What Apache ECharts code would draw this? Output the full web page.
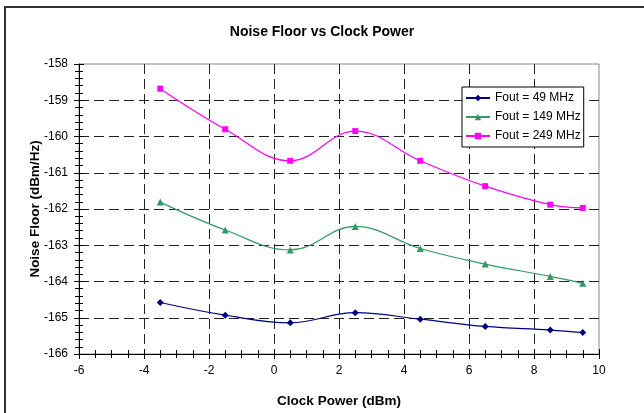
<!DOCTYPE html>
<html>
<head>
<meta charset="utf-8">
<script src="https://cdn.jsdelivr.net/npm/echarts@6/dist/echarts.min.js"></script>
<style>
  html, body { margin: 0; padding: 0; background: #fff; }
  #main { width: 644px; height: 413px; }
</style>
</head>
<body>
<div id="main"></div>
<script>
// clock power (dBm)
var clockPower = [-3.5, -1.5, 0.5, 2.5, 4.5, 6.5, 8.5, 9.5];
// noise floor (dBm/Hz)
var fout49 = [-164.58, -164.93, -165.14, -164.86, -165.04, -165.24, -165.34, -165.41];
var fout149 = [-161.81, -162.58, -163.13, -162.48, -163.09, -163.52, -163.86, -164.05];
var fout249 = [-158.68, -159.80, -160.67, -159.85, -160.67, -161.37, -161.88, -161.97];
var seriesNames = ['Fout = 49 MHz', 'Fout = 149 MHz', 'Fout = 249 MHz'];

var font = 'Arial, "Liberation Sans", sans-serif';

function pairs(ys) {
  return clockPower.map(function (x, i) { return [x, ys[i]]; });
}

function makeSeries(name, ys, color, symbol, size) {
  return {
    name: name,
    type: 'line',
    data: pairs(ys),
    smooth: 0.4,
    symbol: symbol,
    symbolSize: size,
    itemStyle: { color: color },
    lineStyle: { color: color, width: 1.2 },
    animation: false
  };
}

var gridDash = { show: true, showMinLine: false, showMaxLine: false,
  lineStyle: { color: '#222', type: [10, 5], width: 1 } };
var nameStyle = { fontFamily: font, fontSize: 13.5, fontWeight: 'bold', color: '#000' };

var myChart = echarts.init(document.getElementById('main'));
myChart.setOption({
  backgroundColor: '#fff',
  animation: false,
  title: {
    text: 'Noise Floor vs Clock Power',
    left: 'center',
    top: 20,
    textStyle: { fontFamily: font, fontSize: 14, fontWeight: 'bold', color: '#000' }
  },
  graphic: [{
    type: 'rect',
    shape: { x: 5, y: 7, width: 700, height: 500 },
    style: { fill: 'none', stroke: '#333', lineWidth: 2 }
  }],
  legend: {
    data: seriesNames,
    orient: 'vertical',
    left: 462,
    top: 87,
    padding: [5, 3, 5, 3],
    itemGap: 7,
    itemWidth: 24,
    itemHeight: 8,
    backgroundColor: '#fff',
    borderColor: '#000',
    borderWidth: 1,
    borderRadius: 0,
    textStyle: { fontFamily: font, fontSize: 12, color: '#000' }
  },
  grid: {
    left: 79, right: 45, top: 64, bottom: 59,
    show: true, borderColor: '#888', borderWidth: 1, backgroundColor: '#fff'
  },
  xAxis: [{
    type: 'value', min: -6, max: 10, interval: 2,
    name: 'Clock Power (dBm)', nameLocation: 'middle', nameGap: 40, nameMoveOverlap: false,
    nameTextStyle: nameStyle,
    axisLine: { onZero: false, lineStyle: { color: '#000', width: 1 } },
    axisTick: { length: 5, lineStyle: { color: '#000' } },
    minorTick: { show: true, splitNumber: 4, length: 4, lineStyle: { color: '#000' } },
    axisLabel: { fontFamily: font, fontSize: 12, color: '#000', margin: 11 },
    splitLine: gridDash
  }, {
    // second copy only for the inner half of the crossing ticks
    type: 'value', min: -6, max: 10, interval: 2, position: 'bottom',
    axisLine: { show: false, onZero: false },
    axisTick: { inside: true, length: 5, lineStyle: { color: '#000' } },
    minorTick: { show: true, splitNumber: 4, length: 4, lineStyle: { color: '#000' } },
    axisLabel: { show: false },
    splitLine: { show: false }
  }],
  yAxis: [{
    type: 'value', min: -166, max: -158, interval: 1,
    name: 'Noise Floor (dBm/Hz)', nameLocation: 'middle', nameGap: 37, nameMoveOverlap: false,
    nameTextStyle: nameStyle,
    axisLine: { show: true, onZero: false, lineStyle: { color: '#000', width: 1 } },
    axisTick: { show: true, length: 5, lineStyle: { color: '#000' } },
    minorTick: { show: true, splitNumber: 5, length: 4, lineStyle: { color: '#000' } },
    axisLabel: { fontFamily: font, fontSize: 12, color: '#000', margin: 11 },
    splitLine: gridDash
  }, {
    type: 'value', min: -166, max: -158, interval: 1, position: 'left',
    axisLine: { show: false, onZero: false },
    axisTick: { show: true, inside: true, length: 5, lineStyle: { color: '#000' } },
    minorTick: { show: true, splitNumber: 5, length: 4, lineStyle: { color: '#000' } },
    axisLabel: { show: false },
    splitLine: { show: false }
  }],
  series: [
    makeSeries(seriesNames[0], fout49, '#000080', 'diamond', 7),
    makeSeries(seriesNames[1], fout149, '#339966', 'triangle', 7),
    makeSeries(seriesNames[2], fout249, '#ff00ff', 'rect', 6)
  ]
});
</script>
</body>
</html>
